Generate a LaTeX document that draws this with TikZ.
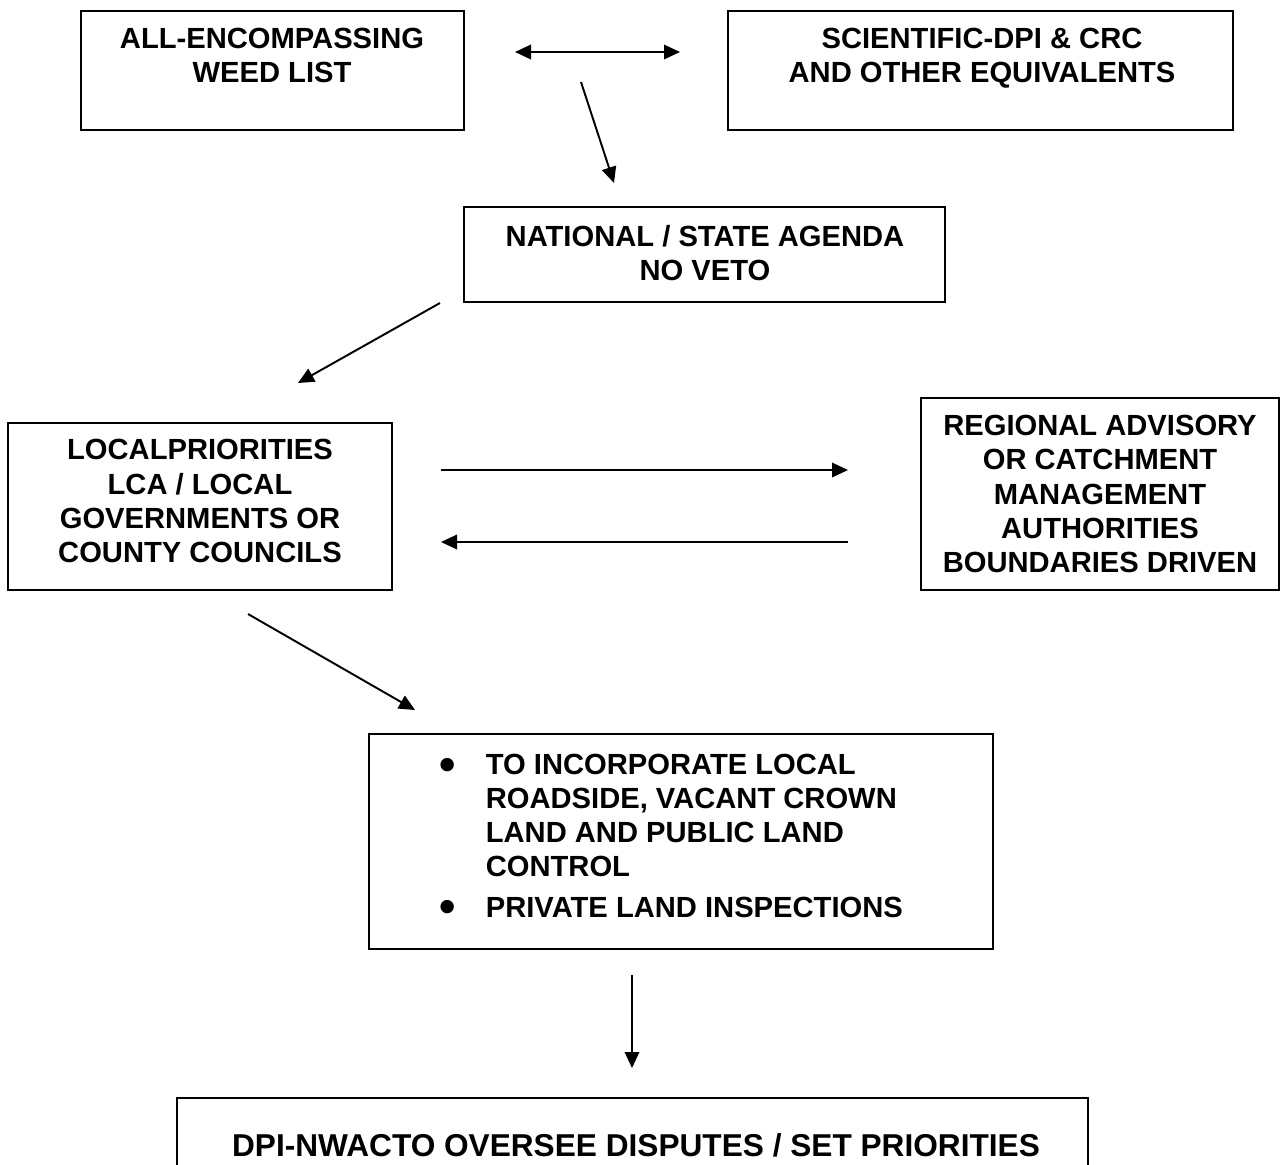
\documentclass[tikz,border=0pt]{standalone}
\usepackage{fontspec}
\setmainfont{Liberation Sans}
\usepackage{graphicx}
\usepackage{tikz}
\usetikzlibrary{arrows.meta,positioning}

\newcommand{\bigbullet}{\makebox[0.93cm][l]{\raisebox{-0.2em}{\scalebox{1.6}{\textbullet}}}}

\begin{document}
\begin{tikzpicture}[x=0.02cm,y=-0.02cm,align=center,
    boxframe/.style={draw,line width=0.9pt,inner sep=0pt},
    boxtext/.style={inner sep=0pt,font=\fontsize{16.6}{19.4}\selectfont\bfseries},
    >={Triangle[length=0.32cm,width=0.29cm]}]
  \def \px {0.02cm}
  \useasboundingbox (0,0) rectangle (1281,1164);

  \node[boxframe,minimum width=383*\px,minimum height=119*\px] (weedlist) at (272.5,70.5) {};
  \node[boxframe,minimum width=505*\px,minimum height=119*\px] (scientific) at (980.5,70.5) {};
  \node[boxframe,minimum width=481*\px,minimum height=95*\px] (agenda) at (704.5,254.5) {};
  \node[boxframe,minimum width=384*\px,minimum height=167*\px] (localprio) at (200,506.5) {};
  \node[boxframe,minimum width=358*\px,minimum height=192*\px] (regional) at (1100,494) {};
  \node[boxframe,minimum width=624*\px,minimum height=215*\px] (inspections) at (681,841.5) {};
  \node[boxframe,minimum width=911*\px,minimum height=102*\px] (oversee) at (632.5,1149) {};

  \node[boxtext] (weedlisttext) at (272,55.5) {ALL-ENCOMPASSING\\WEED LIST};
  \node[boxtext] (scientifictext) at (982,58.5) {SCIENTIFIC-DPI \& CRC\\AND OTHER EQUIVALENTS};
  \node[boxtext] (agendatext) at (705,253) {NATIONAL / STATE AGENDA\\NO VETO};
  \node[boxtext] (localpriotext) at (200,501) {LOCALPRIORITIES\\LCA / LOCAL\\GOVERNMENTS OR\\COUNTY COUNCILS};
  \node[boxtext] (regionaltext) at (1100,494) {REGIONAL ADVISORY\\OR CATCHMENT\\MANAGEMENT\\AUTHORITIES\\BOUNDARIES DRIVEN};
  \node[boxtext,align=left,anchor=north west] (inspectionstext) at (439,754)
    {\bigbullet TO INCORPORATE LOCAL\\
     \hspace*{0.93cm}ROADSIDE, VACANT CROWN\\
     \hspace*{0.93cm}LAND AND PUBLIC LAND\\
     \hspace*{0.93cm}CONTROL\\[0.12cm]
     \bigbullet PRIVATE LAND INSPECTIONS};
  \node[boxtext,font=\fontsize{18}{21}\selectfont\bfseries] (overseetext) at (636,1145)
    {DPI-NWACTO OVERSEE DISPUTES / SET PRIORITIES};

  % free arrow ends, the arrows stop short of the boxes
  \coordinate (weedright) at (515,52);
  \coordinate (scileft) at (680,52);
  \coordinate (weedbelow) at (581,82);
  \coordinate (agendaabove) at (614,183);
  \coordinate (agendabelow) at (440,303);
  \coordinate (localabove) at (298,383);
  \coordinate (localright) at (441,470);
  \coordinate (regionalleft) at (848,470);
  \coordinate (regionalback) at (848,542);
  \coordinate (localback) at (441,542);
  \coordinate (localbelow) at (248,614);
  \coordinate (inspectabove) at (415,710);
  \coordinate (inspectbelow) at (632,975);
  \coordinate (overseeabove) at (632,1068);

  \draw[<->, line width=1.1pt] (weedright) -- (scileft);
  \draw[->, line width=1.1pt] (weedbelow) -- (agendaabove);
  \draw[->, line width=1.1pt] (agendabelow) -- (localabove);
  \draw[->, line width=1.1pt] (localright) -- (regionalleft);
  \draw[->, line width=1.1pt] (regionalback) -- (localback);
  \draw[->, line width=1.1pt] (localbelow) -- (inspectabove);
  \draw[->, line width=1.1pt] (inspectbelow) -- (overseeabove);

\end{tikzpicture}
\end{document}
